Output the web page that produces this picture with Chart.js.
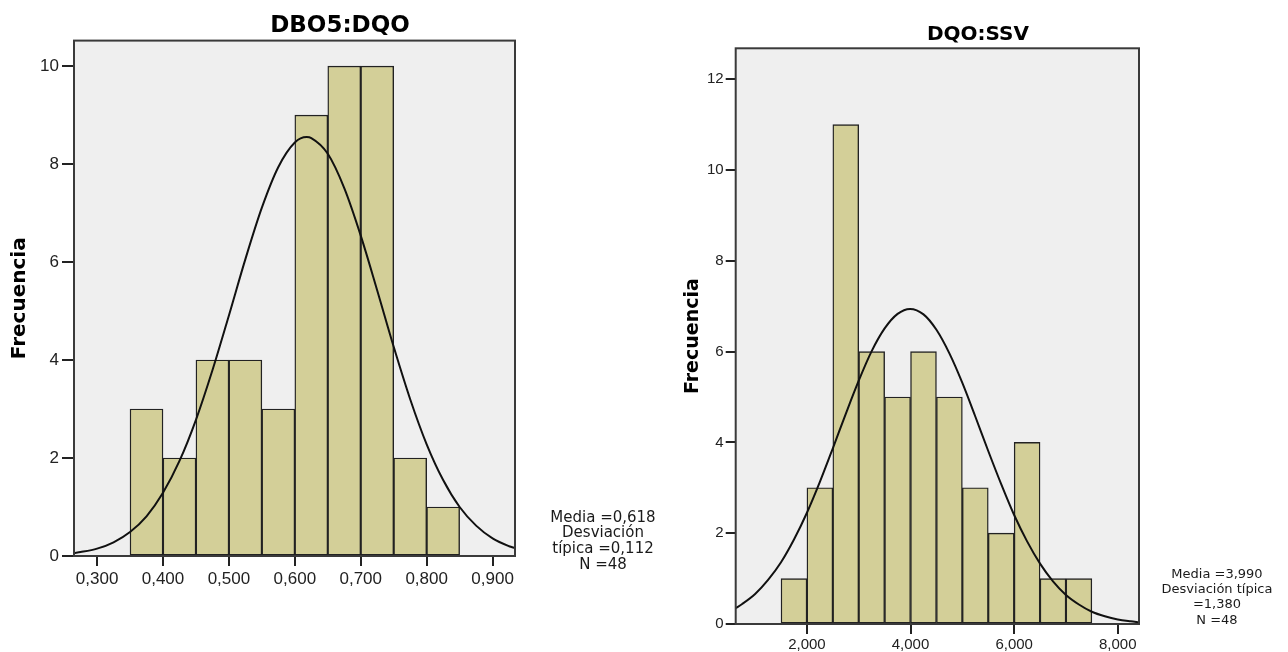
<!DOCTYPE html>
<html>
<head>
<meta charset="utf-8">
<script src="https://cdn.jsdelivr.net/npm/chart.js@4.4.0/dist/chart.umd.min.js"></script>
<style>
body { margin: 0; background: #fff; }
#dboChart { position: absolute; left: 0; top: 0; }
#ssvChart { position: absolute; left: 668px; top: 0; }
</style>
</head>
<body>
<canvas id="dboChart" width="680" height="652"></canvas>
<canvas id="ssvChart" width="620" height="652"></canvas>
<script>
// DBO5:DQO histogram
const dboBins = [0.375, 0.425, 0.475, 0.525, 0.575, 0.625, 0.675, 0.725, 0.775, 0.825];
const dboCounts = [3, 2, 4, 4, 3, 9, 10, 10, 2, 1];
const dboCurveX = [0.265, 0.275, 0.3, 0.325, 0.35, 0.375, 0.4, 0.425, 0.45, 0.475, 0.5, 0.525, 0.55, 0.575, 0.6, 0.618,
  0.625, 0.65, 0.675, 0.7, 0.725, 0.75, 0.775, 0.8, 0.825, 0.85, 0.875, 0.9, 0.925, 0.934];
const dboCurveY = [0.06, 0.08, 0.15, 0.28, 0.49, 0.81, 1.29, 1.94, 2.78, 3.79, 4.91, 6.06, 7.11, 7.94, 8.44, 8.55,
  8.53, 8.21, 7.51, 6.54, 5.42, 4.27, 3.20, 2.28, 1.55, 1.00, 0.62, 0.36, 0.20, 0.16];
const dboStats = ["Media =0,618", "Desviación", "típica =0,112", "N =48"];

// DQO:SSV histogram
const ssvBins = [1.75, 2.25, 2.75, 3.25, 3.75, 4.25, 4.75, 5.25, 5.75, 6.25, 6.75, 7.25];
const ssvCounts = [1, 3, 11, 6, 5, 6, 5, 3, 2, 4, 1, 1];
const ssvCurveX = [0.625, 0.75, 1.0, 1.25, 1.5, 1.75, 2.0, 2.25, 2.5, 2.75, 3.0, 3.25, 3.5, 3.75, 3.99, 4.25, 4.5,
  4.75, 5.0, 5.25, 5.5, 5.75, 6.0, 6.25, 6.5, 6.75, 7.0, 7.25, 7.5, 7.75, 8.0, 8.25, 8.41];
const ssvCurveY = [0.35, 0.44, 0.66, 0.97, 1.36, 1.86, 2.45, 3.13, 3.87, 4.63, 5.36, 6.01, 6.51, 6.83, 6.94, 6.82, 6.48,
  5.96, 5.31, 4.57, 3.81, 3.08, 2.40, 1.82, 1.33, 0.94, 0.64, 0.43, 0.27, 0.17, 0.10, 0.06, 0.04];
const ssvStats = ["Media =3,990", "Desviación típica", "=1,380", "N =48"];

Chart.defaults.font.family = "'Liberation Sans', Arial, sans-serif";
Chart.defaults.color = "#222";

const barFill = "#d3cf98";
const barLine = "#222";

// grey plot area + frame + the SPSS stats note at the right
const spssLook = {
  id: "spssLook",
  beforeDraw(chart) {
    const a = chart.chartArea, ctx = chart.ctx;
    ctx.save();
    ctx.fillStyle = "#efefef";
    ctx.fillRect(a.left, a.top, a.right - a.left, a.bottom - a.top);
    ctx.restore();
  },
  afterDraw(chart, args, opts) {
    const a = chart.chartArea, ctx = chart.ctx;
    ctx.save();
    ctx.strokeStyle = "#3a3a3a";
    ctx.lineWidth = 2;
    ctx.strokeRect(a.left, a.top, a.right - a.left, a.bottom - a.top);
    ctx.fillStyle = "#1a1a1a";
    ctx.font = opts.font;
    ctx.textAlign = "center";
    ctx.textBaseline = "middle";
    opts.lines.forEach((t, i) => {
      ctx.fillText(t, a.right + opts.dx, a.bottom + opts.dy[i]);
    });
    ctx.restore();
  }
};

function comma(v) {
  return v.toFixed(3).replace(".", ",");
}

function histogram(id, s) {
  return new Chart(document.getElementById(id), {
    type: "bar",
    data: {
      datasets: [{
        type: "line",
        data: s.curveX.map((x, i) => ({ x: x, y: s.curveY[i] })),
        borderColor: "#111",
        borderWidth: 2,
        pointRadius: 0,
        cubicInterpolationMode: "monotone",
        fill: false,
        order: 0
      }, {
        type: "bar",
        data: s.bins.map((x, i) => ({ x: x, y: s.counts[i] })),
        backgroundColor: barFill,
        borderColor: barLine,
        borderWidth: 1.4,
        borderSkipped: false,
        barPercentage: 1,
        categoryPercentage: 1,
        order: 1
      }]
    },
    options: {
      responsive: false,
      animation: false,
      events: [],
      layout: { padding: 0 },
      plugins: {
        legend: { display: false },
        tooltip: { enabled: false },
        title: {
          display: true,
          text: s.title,
          color: "#000",
          font: { family: "'DejaVu Sans', sans-serif", weight: "bold", size: s.titleSize },
          padding: s.titlePad
        },
        spssLook: { lines: s.stats, font: s.statsFont, dx: s.statsDx, dy: s.statsDy }
      },
      scales: {
        x: {
          type: "linear",
          offset: false,
          min: s.xMin,
          max: s.xMax,
          ticks: { stepSize: s.xStep, includeBounds: false, callback: comma, font: { size: s.tickSize }, padding: s.xPad },
          grid: { display: true, offset: false, drawOnChartArea: false, drawTicks: true, tickLength: 10, color: "#222", lineWidth: 2 },
          border: { display: false },
          afterFit(scale) { scale.height = s.xHeight; scale.paddingLeft = 0; scale.paddingRight = 0; }
        },
        y: {
          position: "left",
          min: 0,
          max: s.yMax,
          ticks: { stepSize: 2, includeBounds: false, font: { size: s.tickSize }, padding: s.yPad },
          grid: { display: true, drawOnChartArea: false, drawTicks: true, tickLength: s.yTick, color: "#222", lineWidth: 2 },
          border: { display: false },
          title: {
            display: true,
            text: "Frecuencia",
            color: "#000",
            font: { family: "'DejaVu Sans', sans-serif", weight: "bold", size: s.labelSize },
            padding: { top: s.labelPad, bottom: 0 }
          },
          afterFit(scale) { scale.width = s.yWidth; scale.paddingTop = 0; scale.paddingBottom = 0; }
        },
        side: {
          position: "right",
          ticks: { display: false },
          grid: { display: false },
          border: { display: false },
          afterFit(scale) { scale.width = s.sideWidth; }
        }
      }
    },
    plugins: [spssLook]
  });
}

histogram("dboChart", {
  title: "DBO5:DQO", titleSize: 23, titlePad: { top: 12, bottom: 1 },
  bins: dboBins, counts: dboCounts, curveX: dboCurveX, curveY: dboCurveY,
  xMin: 0.265, xMax: 0.934, xStep: 0.1, xHeight: 96, xPad: 3,
  yMax: 10.52, yWidth: 74, yTick: 12, yPad: 3,
  tickSize: 17, labelSize: 20, labelPad: 8, sideWidth: 165,
  stats: dboStats, statsFont: "15px 'DejaVu Sans', sans-serif", statsDx: 88, statsDy: [-37.7, -22.4, -6.7, 9]
});

histogram("ssvChart", {
  title: "DQO:SSV", titleSize: 20, titlePad: { top: 23, bottom: 1.3 },
  bins: ssvBins, counts: ssvCounts, curveX: ssvCurveX, curveY: ssvCurveY,
  xMin: 0.625, xMax: 8.41, xStep: 2, xHeight: 28, xPad: 2,
  yMax: 12.68, yWidth: 67.7, yTick: 10, yPad: 2,
  tickSize: 15, labelSize: 19, labelPad: 13.6, sideWidth: 149,
  stats: ssvStats, statsFont: "13px 'DejaVu Sans', sans-serif", statsDx: 78, statsDy: [-49, -34, -19, -3.5]
});
</script>
</body>
</html>
